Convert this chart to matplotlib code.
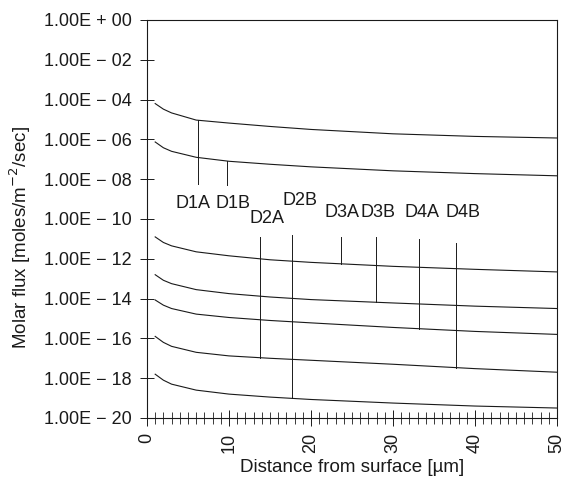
import numpy as np
import matplotlib.pyplot as plt
from matplotlib.ticker import FixedLocator, MultipleLocator

plt.rcParams['font.family'] = ['Liberation Sans', 'DejaVu Sans']

# distance from surface [um] where each curve was read
x_pts = [1, 2, 3, 6, 10, 15, 20, 30, 40, 50]

# log10 of molar flux for each curve
flux_1 = [-4.20, -4.48, -4.67, -5.03, -5.18, -5.35, -5.50, -5.72, -5.85, -5.93]
flux_2 = [-6.13, -6.42, -6.60, -6.90, -7.10, -7.25, -7.38, -7.58, -7.72, -7.83]
flux_3 = [-10.90, -11.18, -11.35, -11.65, -11.85, -12.05, -12.18, -12.38, -12.53, -12.66]
flux_4 = [-12.80, -13.08, -13.25, -13.55, -13.75, -13.92, -14.05, -14.22, -14.38, -14.50]
flux_5 = [-14.07, -14.33, -14.50, -14.78, -14.95, -15.10, -15.22, -15.45, -15.65, -15.80]
flux_6 = [-15.90, -16.20, -16.40, -16.70, -16.88, -17.00, -17.10, -17.30, -17.52, -17.70]
flux_7 = [-17.80, -18.10, -18.30, -18.60, -18.80, -18.95, -19.07, -19.25, -19.40, -19.50]
curves = [flux_1, flux_2, flux_3, flux_4, flux_5, flux_6, flux_7]

# marker lines: label, x position, top (log) or curve index, bottom (log) or curve index
markers = ['D1A', 'D1B', 'D2A', 'D2B', 'D3A', 'D3B', 'D4A', 'D4B']
marker_x = [6.2, 9.8, 13.8, 17.7, 23.6, 27.9, 33.2, 37.7]
marker_top = [('c', 0), ('c', 1), ('v', -10.9), ('v', -10.8), ('v', -10.9),
              ('v', -10.9), ('v', -11.0), ('v', -11.2)]
marker_bot = [('v', -8.25), ('v', -8.3), ('c', 5), ('c', 6), ('c', 2),
              ('c', 3), ('c', 4), ('c', 5)]
label_x = [5.6, 10.5, 14.6, 18.7, 23.8, 28.2, 33.5, 38.5]
label_y = [-9.2, -9.2, -10.0, -9.05, -9.65, -9.65, -9.65, -9.65]

y_ticks = list(range(0, -21, -2))
y_labels = ['1.00E + 00'] + ['1.00E \u2212 %02d' % -t for t in y_ticks[1:]]
x_ticks = [0, 10, 20, 30, 40, 50]

ink = '#1a1a1a'


def resolve(spec, xv):
    kind, val = spec
    if kind == 'c':
        return np.interp(xv, x_pts, curves[val])
    return val


fig = plt.figure(figsize=(5.64, 4.84), dpi=100)
ax = fig.add_axes([0.2606, 0.1364, 0.7270, 0.8223])

for c in curves:
    ax.plot(x_pts, 10.0 ** np.array(c), color=ink, lw=0.8)

for xv, top, bot in zip(marker_x, marker_top, marker_bot):
    ax.plot([xv, xv], [10.0 ** resolve(top, xv), 10.0 ** resolve(bot, xv)],
            color=ink, lw=0.7)

for name, lx, ly in zip(markers, label_x, label_y):
    ax.text(lx, 10.0 ** ly, name, ha='center', va='center', fontsize=13, color=ink)

ax.set_yscale('log')
ax.set_ylim(1e-20, 1e0)
ax.set_xlim(0, 50)
ax.set_yticks([10.0 ** t for t in y_ticks])
ax.set_yticklabels(y_labels)
ax.yaxis.set_minor_locator(FixedLocator([]))
ax.set_xticks(x_ticks)
ax.set_xticklabels([str(t) for t in x_ticks], rotation=90)
ax.xaxis.set_minor_locator(MultipleLocator(1))

ax.tick_params(axis='y', which='major', direction='inout', length=10, width=0.7,
               labelsize=13, pad=6, colors=ink)
ax.tick_params(axis='x', which='major', direction='inout', length=11, width=0.7,
               labelsize=13, pad=5, colors=ink)
ax.tick_params(axis='x', which='minor', direction='inout', length=8, width=0.6, colors=ink)

for s in ax.spines.values():
    s.set_linewidth(0.8)
    s.set_color(ink)

fig.text(20 / 564, 1 - 238 / 484, 'Molar flux [moles/m$^{-2}$/sec]', rotation=90,
         ha='center', va='center', fontsize=13.5, color=ink)
fig.text(352 / 564, 1 - 468 / 484, 'Distance from surface [\u00b5m]',
         ha='center', va='center', fontsize=13.5, color=ink)

fig.savefig('out.png', dpi=100)
